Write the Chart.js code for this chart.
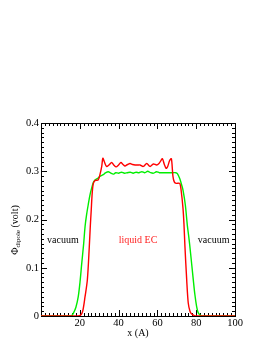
<!DOCTYPE html>
<html>
<head>
<meta charset="utf-8">
<script src="https://cdn.jsdelivr.net/npm/chart.js@4/dist/chart.umd.min.js"></script>
<style>
  html, body { margin: 0; padding: 0; background: #fff; }
  #wrap { width: 277px; height: 358px; }
</style>
</head>
<body>
<div id="wrap"><canvas id="dipoleChart" width="277" height="358"></canvas></div>
<script>
// red curve: liquid EC
const redX = [0, 19, 20.5, 21.5, 22.7, 23.9, 24.9, 25.4, 25.9, 26.4, 27, 28, 29.5, 30.5, 31.3, 31.9, 32.8, 33.8, 35, 36.4, 37.5, 38.7, 40, 41.2, 42.3, 43.3, 44.6, 45.9, 47.2, 48.5, 50, 51, 52.7, 54.5, 56.2, 57.9, 59.6, 60.8, 61.8, 62.6, 63.5, 64.5, 65.3, 66.3, 67.2, 68, 68.7, 69.7, 71.5, 72.3, 73.2, 73.7, 74.2, 75.1, 75.9, 76.8, 77.7, 79, 80, 100];
const redY = [0, 0, 0.002, 0.01, 0.04, 0.075, 0.144, 0.185, 0.22, 0.255, 0.275, 0.281, 0.282, 0.295, 0.31, 0.327, 0.318, 0.31, 0.313, 0.318, 0.313, 0.309, 0.313, 0.318, 0.314, 0.311, 0.314, 0.316, 0.314, 0.313, 0.313, 0.313, 0.31, 0.316, 0.31, 0.315, 0.313, 0.316, 0.322, 0.326, 0.315, 0.306, 0.31, 0.322, 0.326, 0.29, 0.278, 0.275, 0.275, 0.258, 0.223, 0.19, 0.144, 0.075, 0.027, 0.01, 0.004, 0.001, 0, 0];

// green curve
const greenX = [0, 15.5, 16.7, 18, 19.2, 20.1, 21, 22, 22.7, 23.5, 24.4, 25.2, 26.1, 27, 27.8, 29.5, 30.5, 32.1, 33, 34.7, 36, 37.3, 38.5, 40, 41.5, 43, 44.5, 46, 47.5, 49, 50.5, 52, 53.5, 55, 56.5, 58, 59.5, 61, 62.5, 64, 66, 68, 69.5, 70.3, 71.5, 72.4, 73.2, 74.4, 75.4, 76.3, 77.1, 78.5, 79.3, 80.2, 81, 82, 83, 100];
const greenY = [0, 0, 0.006, 0.018, 0.04, 0.07, 0.109, 0.15, 0.185, 0.21, 0.232, 0.25, 0.265, 0.277, 0.282, 0.286, 0.29, 0.293, 0.296, 0.299, 0.296, 0.294, 0.297, 0.296, 0.298, 0.296, 0.297, 0.298, 0.296, 0.298, 0.297, 0.299, 0.297, 0.3, 0.297, 0.296, 0.299, 0.297, 0.297, 0.297, 0.297, 0.297, 0.297, 0.295, 0.285, 0.273, 0.261, 0.23, 0.189, 0.16, 0.13, 0.075, 0.045, 0.02, 0.007, 0.002, 0, 0];

const xTicks = [0, 20, 40, 60, 80, 100];
const yTicks = [0, 0.1, 0.2, 0.3, 0.4];

const regionLabels = ['vacuum', 'liquid EC', 'vacuum'];
const regionX = [11.3, 50, 89];
const regionY = [0.157, 0.157, 0.157];
const regionColors = ['#000', '#ff2020', '#000'];

const serif = '"Liberation Serif", "Times New Roman", serif';

function toPoints(xs, ys) {
    return xs.map((x, i) => ({ x: x, y: ys[i] }));
}

// frame + inward ticks on all four sides, like xmgrace
const framePlugin = {
    id: 'frame',
    beforeDatasetsDraw(chart) {
        const ctx = chart.ctx;
        const a = chart.chartArea;
        const sx = chart.scales.x, sy = chart.scales.y;
        ctx.save();
        ctx.strokeStyle = '#000';
        ctx.lineWidth = 1;
        ctx.beginPath();
        for (let v = 0; v <= 100; v += 2) {
            const px = Math.round(sx.getPixelForValue(v)) + 0.5;
            const len = (v % 20 === 0) ? 6 : 3;
            ctx.moveTo(px, a.bottom); ctx.lineTo(px, a.bottom - len);
            ctx.moveTo(px, a.top); ctx.lineTo(px, a.top + len);
        }
        for (let i = 0; i <= 40; i++) {
            const py = Math.round(sy.getPixelForValue(i / 100)) + 0.5;
            const len = (i % 10 === 0) ? 6 : 3;
            ctx.moveTo(a.left, py); ctx.lineTo(a.left + len, py);
            ctx.moveTo(a.right, py); ctx.lineTo(a.right - len, py);
        }
        ctx.stroke();
        ctx.strokeRect(Math.round(a.left) + 0.5, Math.round(a.top) + 0.5,
                       Math.round(a.right - a.left), Math.round(a.bottom - a.top));
        ctx.restore();
    },
    afterDraw(chart) {
        const ctx = chart.ctx;
        const sx = chart.scales.x, sy = chart.scales.y;
        ctx.save();
        // region labels
        ctx.font = '10px ' + serif;
        ctx.textAlign = 'center';
        ctx.textBaseline = 'middle';
        regionLabels.forEach((t, i) => {
            ctx.fillStyle = regionColors[i];
            ctx.fillText(t, sx.getPixelForValue(regionX[i]), sy.getPixelForValue(regionY[i]));
        });
        // y axis title with subscript
        const main = '\u03A6', sub = 'dipole', rest = ' (volt)';
        ctx.translate(15, 230);
        ctx.rotate(-Math.PI / 2);
        ctx.fillStyle = '#000';
        ctx.textAlign = 'left';
        ctx.textBaseline = 'middle';
        ctx.font = '10px ' + serif;
        const w1 = ctx.measureText(main).width;
        const w3 = ctx.measureText(rest).width;
        ctx.font = '7px ' + serif;
        const w2 = ctx.measureText(sub).width;
        let x0 = -(w1 + w2 + w3) / 2;
        ctx.font = '10px ' + serif;
        ctx.fillText(main, x0, 0);
        ctx.font = '7px ' + serif;
        ctx.fillText(sub, x0 + w1, 3);
        ctx.font = '10px ' + serif;
        ctx.fillText(rest, x0 + w1 + w2, 0);
        ctx.restore();
    }
};

const ctx = document.getElementById('dipoleChart').getContext('2d');

new Chart(ctx, {
    type: 'line',
    data: {
        datasets: [
            {
                label: 'liquid EC',
                data: toPoints(redX, redY),
                borderColor: '#ff0000',
                borderWidth: 1.4,
                pointRadius: 0,
                tension: 0.3
            },
            {
                label: 'green',
                data: toPoints(greenX, greenY),
                borderColor: '#00ee00',
                borderWidth: 1.4,
                pointRadius: 0,
                tension: 0.3
            }
        ]
    },
    options: {
        responsive: false,
        animation: false,
        layout: { padding: { top: 123, right: 42, left: 0, bottom: 0 } },
        plugins: {
            legend: { display: false },
            tooltip: { enabled: false }
        },
        scales: {
            x: {
                type: 'linear',
                min: 0,
                max: 100,
                afterBuildTicks: (s) => { s.ticks = xTicks.map(v => ({ value: v })); },
                afterFit: (s) => { s.height = 42; },
                grid: { display: false, drawTicks: false },
                border: { display: false },
                ticks: {
                    padding: 1,
                    color: '#000',
                    font: { family: serif, size: 10.5 },
                    maxRotation: 0,
                    callback: (v) => (v === 0 ? '' : String(v))
                },
                title: {
                    display: true,
                    text: 'x (A)',
                    color: '#000',
                    font: { family: serif, size: 10 },
                    padding: { top: 0, bottom: 19 }
                }
            },
            y: {
                type: 'linear',
                min: 0,
                max: 0.4,
                afterBuildTicks: (s) => { s.ticks = yTicks.map(v => ({ value: v })); },
                afterFit: (s) => { s.width = 41; },
                grid: { display: false, drawTicks: false },
                border: { display: false },
                ticks: {
                    padding: 2,
                    color: '#000',
                    font: { family: serif, size: 10.5 },
                    callback: (v) => (v === 0 ? '0' : v.toFixed(1))
                }
            }
        }
    },
    plugins: [framePlugin]
});
</script>
</body>
</html>
